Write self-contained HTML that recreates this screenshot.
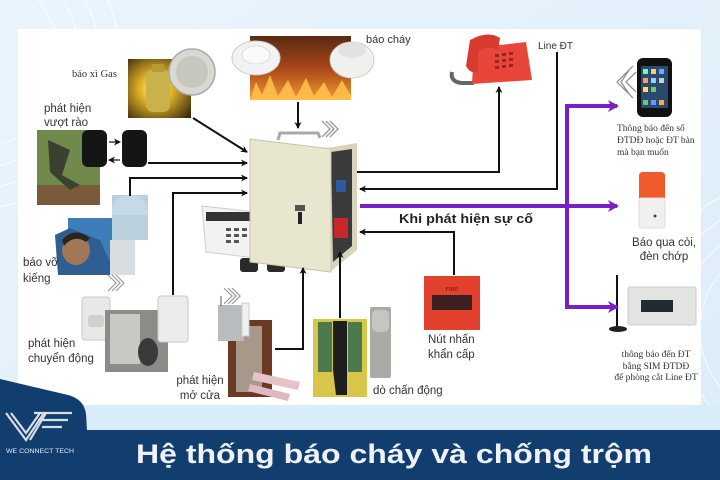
<!DOCTYPE html>
<html><head><meta charset="utf-8"><style>
html,body{margin:0;padding:0;width:720px;height:480px;overflow:hidden;background:#e4f1fb}
svg{display:block}
</style></head><body>
<svg width="720" height="480" viewBox="0 0 720 480" xmlns="http://www.w3.org/2000/svg">
<defs>
<marker id="ab" markerWidth="8" markerHeight="8" refX="6" refY="4" orient="auto" markerUnits="userSpaceOnUse"><path d="M0,0.5 L7,4 L0,7.5 L2,4 Z" fill="#111"/></marker>
<marker id="ap" markerWidth="12" markerHeight="12" refX="9" refY="6" orient="auto" markerUnits="userSpaceOnUse"><path d="M0,0 L11,6 L0,12 L3,6 Z" fill="#7a1fc8"/></marker>
<radialGradient id="gas" cx="0.45" cy="0.5" r="0.7"><stop offset="0" stop-color="#fff6b0"/><stop offset="0.35" stop-color="#e6b62a"/><stop offset="1" stop-color="#3a2a0c"/></radialGradient>
<linearGradient id="fire" x1="0" y1="0" x2="0" y2="1"><stop offset="0" stop-color="#5a2a12"/><stop offset="0.5" stop-color="#a8461a"/><stop offset="1" stop-color="#f29a2e"/></linearGradient>
<linearGradient id="sky" x1="0" y1="0" x2="1" y2="1"><stop offset="0" stop-color="#eaf4fc"/><stop offset="1" stop-color="#dcecf9"/></linearGradient>
</defs>
<rect width="720" height="480" fill="url(#sky)"/>
<g fill="none" stroke="#ffffff" stroke-opacity="0.7" stroke-width="1.2">
<circle cx="-30" cy="60" r="90"/><circle cx="-30" cy="60" r="110"/><circle cx="-30" cy="60" r="130"/><circle cx="-30" cy="60" r="150"/>
<circle cx="790" cy="330" r="90"/><circle cx="790" cy="330" r="110"/><circle cx="790" cy="330" r="130"/><circle cx="790" cy="330" r="150"/>
</g>
<rect x="18" y="29" width="683" height="376" fill="#ffffff"/>
<rect x="0" y="405" width="720" height="25" fill="#d8ecf9"/>

<!-- gas -->
<rect x="128" y="59" width="63" height="59" fill="url(#gas)"/>
<rect x="146" y="70" width="24" height="42" rx="7" fill="#c9b24a"/>
<rect x="152" y="64" width="12" height="8" fill="#b89a30"/>
<circle cx="192" cy="72" r="23" fill="#d9d9d2" stroke="#aaa" stroke-width="1.5"/>
<circle cx="192" cy="72" r="16" fill="#c7c7bf"/>
<text x="72" y="77" font-family="Liberation Serif, serif" font-size="10.5" fill="#333">báo xì Gas</text>

<!-- fire -->
<rect x="250" y="36" width="101" height="64" fill="url(#fire)"/>
<path d="M250,100 L256,82 L262,95 L270,75 L278,96 L288,80 L296,97 L306,78 L314,96 L324,82 L332,97 L342,80 L351,96 L351,100 Z" fill="#ffc34d" opacity="0.85"/>
<ellipse cx="256" cy="58" rx="24" ry="17" fill="#f2f2f2" stroke="#ccc"/>
<ellipse cx="256" cy="55" rx="14" ry="9" fill="#fafafa" stroke="#ddd"/>
<ellipse cx="352" cy="60" rx="22" ry="18" fill="#f0f0ee" stroke="#ccc"/>
<ellipse cx="352" cy="50" rx="14" ry="8" fill="#e2e2e0"/>
<text x="366" y="43" font-family="Liberation Sans, sans-serif" font-size="11" fill="#333">báo cháy</text>

<!-- phone -->
<path d="M452,72 Q450,82 462,83 L474,83" fill="none" stroke="#666" stroke-width="4"/>
<path d="M474,48 L526,42 L532,80 L472,84 Z" fill="#e8463a"/>
<path d="M470,40 Q488,30 500,38 L498,50 Q486,44 478,52 L478,72 Q470,74 466,66 Z" fill="#d83a30"/>
<g fill="#9a2620"><rect x="495" y="54" width="4" height="3"/><rect x="502" y="53" width="4" height="3"/><rect x="509" y="52" width="4" height="3"/><rect x="495" y="60" width="4" height="3"/><rect x="502" y="59" width="4" height="3"/><rect x="509" y="58" width="4" height="3"/><rect x="495" y="66" width="4" height="3"/><rect x="502" y="65" width="4" height="3"/><rect x="509" y="64" width="4" height="3"/></g>
<text x="538" y="49" font-family="Liberation Sans, sans-serif" font-size="10" fill="#333">Line ĐT</text>

<!-- climber / beams -->
<text font-family="Liberation Sans, sans-serif" font-size="11.5" fill="#333"><tspan x="44" y="112">phát hiện</tspan><tspan x="44" y="126">vượt rào</tspan></text>
<rect x="37" y="130" width="63" height="75" fill="#6f8a4a"/>
<rect x="37" y="185" width="63" height="20" fill="#7a5a3a"/>
<path d="M48,140 L70,150 L62,175 L80,185 L70,190 L50,172 Z" fill="#3c4030"/>
<rect x="82" y="130" width="25" height="37" rx="6" fill="#151515"/>
<rect x="122" y="130" width="25" height="37" rx="6" fill="#151515"/>
<line x1="109" y1="142" x2="120" y2="142" stroke="#111" stroke-width="1.2" marker-end="url(#ab)"/>
<line x1="120" y1="160" x2="109" y2="160" stroke="#111" stroke-width="1.2" marker-end="url(#ab)"/>

<!-- glass break -->
<rect x="68" y="218" width="44" height="44" fill="#3d7db8"/>
<path d="M55,235 L70,228 L100,240 L110,262 L110,275 L58,275 Z" fill="#2f5f92"/>
<ellipse cx="76" cy="250" rx="14" ry="15" fill="#a07858"/>
<path d="M62,240 Q74,226 90,238 L86,242 Q74,234 64,246 Z" fill="#2a2520"/>
<path d="M112,195 L148,195 L148,240 L112,240 Z" fill="#b8d1dd"/>
<path d="M112,215 Q112,195 130,195 Q148,195 148,215 Z" fill="#c4dbe6"/>
<rect x="110" y="240" width="25" height="35" fill="#d8dde2"/>
<text font-family="Liberation Sans, sans-serif" font-size="11.5" fill="#333"><tspan x="23" y="266">báo vỡ</tspan><tspan x="23" y="282">kiếng</tspan></text>

<!-- motion -->
<rect x="82" y="297" width="28" height="43" rx="3" fill="#e8e8e6" stroke="#c8c8c8"/>
<rect x="88" y="315" width="16" height="12" rx="3" fill="#d0d0d0"/>
<rect x="105" y="310" width="63" height="62" fill="#8a8c88"/>
<rect x="110" y="314" width="30" height="50" fill="#c7c9c4"/>
<ellipse cx="148" cy="352" rx="10" ry="14" fill="#3a3a38"/>
<rect x="158" y="296" width="30" height="46" rx="3" fill="#ececea" stroke="#c8c8c8"/>
<text font-family="Liberation Sans, sans-serif" font-size="11.5" fill="#333"><tspan x="28" y="347">phát hiện</tspan><tspan x="28" y="362">chuyển động</tspan></text>

<!-- keypad & remotes -->
<path d="M202,206 L256,212 L256,258 L206,252 Z" fill="#f2f2f2" stroke="#cfcfcf"/>
<rect x="206" y="212" width="46" height="9" fill="#333"/>
<g fill="#555"><rect x="226" y="228" width="5" height="3"/><rect x="234" y="228" width="5" height="3"/><rect x="242" y="228" width="5" height="3"/><rect x="226" y="234" width="5" height="3"/><rect x="234" y="234" width="5" height="3"/><rect x="242" y="234" width="5" height="3"/><rect x="226" y="240" width="5" height="3"/><rect x="234" y="240" width="5" height="3"/></g>
<rect x="240" y="258" width="18" height="14" rx="3" fill="#2a2a2a"/>
<rect x="267" y="258" width="18" height="14" rx="3" fill="#2a2a2a"/>

<!-- control box -->
<path d="M327,148 L357,143 L357,250 L330,272 Z" fill="#d8d4bc"/>
<path d="M331,152 L352,149 L352,246 L333,262 Z" fill="#3b3a3a"/>
<rect x="334" y="218" width="14" height="20" fill="#c9282a"/>
<rect x="336" y="180" width="10" height="12" fill="#2d5aa0"/>
<path d="M250,139 L331,149 L331,272 L250,262 Z" fill="#e9e6cf" stroke="#c9c4a8"/>
<path d="M278,140 L280,133 L318,133 L320,138" fill="none" stroke="#aaa" stroke-width="3"/>
<rect x="295" y="205" width="10" height="6" fill="#555"/>
<rect x="298" y="212" width="4" height="12" fill="#222"/>
<g fill="none" stroke="#999" stroke-width="1.3"><path d="M322,121 L330,129 L322,137"/><path d="M326,121 L334,129 L326,137"/><path d="M330,121 L338,129 L330,137"/></g>

<!-- door sensor -->
<g fill="none" stroke="#999" stroke-width="1.2"><path d="M224,288 L232,296 L224,304"/><path d="M228,288 L236,296 L228,304"/><path d="M232,288 L240,296 L232,304"/></g>
<g fill="none" stroke="#999" stroke-width="1.2"><path d="M108,275 L116,283 L108,291"/><path d="M112,275 L120,283 L112,291"/><path d="M116,275 L124,283 L116,291"/></g>
<rect x="228" y="320" width="44" height="77" fill="#6a3a22"/>
<rect x="236" y="326" width="26" height="66" fill="#a6998a"/>
<rect x="218" y="305" width="26" height="36" fill="#b9bcbe"/>
<line x1="221" y1="296" x2="221" y2="306" stroke="#555"/>
<rect x="242" y="303" width="7" height="33" fill="#f0f0ee" stroke="#ccc"/>
<path d="M254,372 L300,382 L298,390 L252,380 Z" fill="#e6c3c9"/>
<path d="M250,384 L290,394 L288,401 L248,391 Z" fill="#e0b8c0"/>
<text font-family="Liberation Sans, sans-serif" font-size="11.5" fill="#333" text-anchor="middle"><tspan x="200" y="384">phát hiện</tspan><tspan x="200" y="399">mở cửa</tspan></text>

<!-- vibration -->
<rect x="313" y="319" width="54" height="78" fill="#d8c64a"/>
<rect x="318" y="322" width="14" height="50" fill="#4d7a4c"/>
<rect x="348" y="322" width="14" height="50" fill="#4d7a4c"/>
<path d="M333,321 L347,321 L347,395 L336,395 L333,370 Z" fill="#1e1e1e"/>
<rect x="370" y="307" width="21" height="71" rx="2" fill="#a9aba6"/>
<rect x="372" y="310" width="17" height="22" rx="5" fill="#c4c6c2"/>
<text x="373" y="394" font-family="Liberation Sans, sans-serif" font-size="11.5" fill="#333">dò chấn động</text>

<!-- fire button -->
<rect x="424" y="276" width="56" height="54" fill="#e2412e"/>
<rect x="432" y="295" width="40" height="15" fill="#3a2020"/>
<text x="452" y="291" font-family="Liberation Serif, serif" font-size="6" fill="#4a1a10" text-anchor="middle">FIRE</text>
<text font-family="Liberation Sans, sans-serif" font-size="11.5" fill="#333"><tspan x="428" y="343">Nút nhấn</tspan><tspan x="428" y="358">khẩn cấp</tspan></text>

<!-- right outputs -->
<g fill="none" stroke="#888" stroke-width="1.2"><path d="M633,66 L617,82 L633,98"/><path d="M629,70 L621,82 L629,94"/><path d="M636,72 L626,82 L636,92"/></g>
<rect x="637" y="58" width="35" height="59" rx="6" fill="#111"/>
<rect x="641" y="66" width="27" height="42" fill="#2a4a70"/>
<g><rect x="643" y="69" width="5" height="5" fill="#6fc"/><rect x="651" y="69" width="5" height="5" fill="#fc6"/><rect x="659" y="69" width="5" height="5" fill="#6af"/><rect x="643" y="78" width="5" height="5" fill="#f96"/><rect x="651" y="78" width="5" height="5" fill="#9cf"/><rect x="659" y="78" width="5" height="5" fill="#ccc"/><rect x="643" y="87" width="5" height="5" fill="#fd5"/><rect x="651" y="87" width="5" height="5" fill="#6c6"/><rect x="643" y="100" width="5" height="5" fill="#6c6"/><rect x="651" y="100" width="5" height="5" fill="#69f"/><rect x="659" y="100" width="5" height="5" fill="#fa4"/></g>
<text font-family="Liberation Serif, serif" font-size="9.5" fill="#333"><tspan x="617" y="131">Thông báo đến số</tspan><tspan x="617" y="143">ĐTDĐ hoặc ĐT bàn</tspan><tspan x="617" y="155">mà bạn muốn</tspan></text>

<path d="M639,176 Q639,172 643,172 L661,172 Q665,172 665,176 L665,198 L639,198 Z" fill="#ee5a2a"/>
<rect x="639" y="198" width="26" height="30" rx="2" fill="#f2f0ee" stroke="#ddd"/>
<circle cx="655" cy="216" r="1.5" fill="#444"/>
<text font-family="Liberation Sans, sans-serif" font-size="11.5" fill="#333" text-anchor="middle"><tspan x="664" y="246">Báo qua còi,</tspan><tspan x="664" y="260">đèn chớp</tspan></text>

<rect x="628" y="287" width="68" height="38" rx="2" fill="#e3e4e2" stroke="#ccc"/>
<rect x="641" y="300" width="32" height="12" fill="#1f2a33"/>
<line x1="617" y1="275" x2="617" y2="327" stroke="#111" stroke-width="2"/>
<ellipse cx="618" cy="329" rx="9" ry="3" fill="#222"/>
<text font-family="Liberation Serif, serif" font-size="9.5" fill="#333" text-anchor="middle"><tspan x="656" y="357">thông báo đến ĐT</tspan><tspan x="656" y="369">bằng SIM ĐTDĐ</tspan><tspan x="656" y="380">để phòng cắt Line ĐT</tspan></text>

<!-- black connectors -->
<g fill="none" stroke="#111" stroke-width="2">
<line x1="193" y1="118" x2="247" y2="152" marker-end="url(#ab)"/>
<line x1="148" y1="163" x2="247" y2="163" marker-end="url(#ab)"/>
<polyline points="130,196 130,178 247,178" marker-end="url(#ab)"/>
<polyline points="173,295 173,193 247,193" marker-end="url(#ab)"/>
<line x1="298" y1="102" x2="298" y2="128" marker-end="url(#ab)"/>
<polyline points="357,172 499,172 499,87" marker-end="url(#ab)"/>
<polyline points="557,52 557,189 360,189" marker-end="url(#ab)"/>
<polyline points="454,275 454,232 360,232" marker-end="url(#ab)"/>
<polyline points="275,349 303,349 303,268" marker-end="url(#ab)"/>
<line x1="340" y1="318" x2="340" y2="252" marker-end="url(#ab)"/>
</g>

<!-- purple connectors -->
<g fill="none" stroke="#7a1fc8" stroke-width="4">
<line x1="360" y1="206" x2="617" y2="206" marker-end="url(#ap)"/>
<line x1="567" y1="106" x2="567" y2="307"/>
<line x1="565" y1="106" x2="617" y2="106" marker-end="url(#ap)"/>
<line x1="565" y1="307" x2="617" y2="307" marker-end="url(#ap)"/>
</g>
<text x="399" y="223" font-family="Liberation Sans, sans-serif" font-size="13" font-weight="bold" fill="#222" textLength="134" lengthAdjust="spacingAndGlyphs">Khi phát hiện sự cố</text>

<!-- bottom bar + logo -->
<path d="M0,379 L68,395 Q84,399 86,414 L87,430 L0,430 Z" fill="#123e6f"/>
<rect x="0" y="430" width="720" height="50" fill="#123e6f"/>
<g fill="none" stroke="#d8dde6" stroke-width="2.2">
<path d="M6,413 L26,440 L44,413"/>
<path d="M11,413 L26,433 L40,413"/>
<path d="M34,413 L72,413"/>
<path d="M38,420 L68,420"/>
<path d="M42,427 L62,427"/>
<path d="M46,413 L30,440"/>
</g>
<text x="6" y="453" font-family="Liberation Sans, sans-serif" font-size="6.8" fill="#e8ecf2" textLength="68" lengthAdjust="spacingAndGlyphs">WE CONNECT TECH</text>
<text x="136" y="463" font-family="Liberation Sans, sans-serif" font-size="27" font-weight="bold" fill="#eef1f5" textLength="516" lengthAdjust="spacingAndGlyphs">Hệ thống báo cháy và chống trộm</text>
</svg>
</body></html>
